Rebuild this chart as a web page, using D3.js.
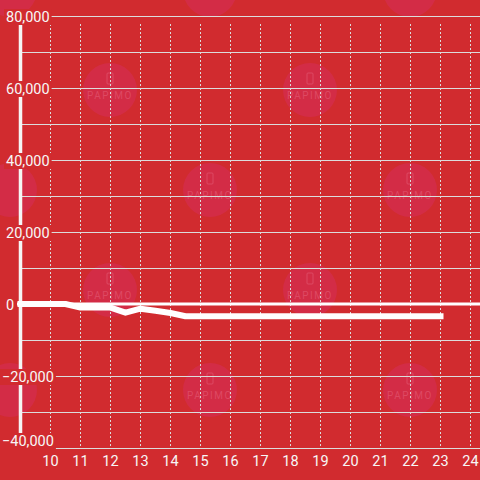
<!DOCTYPE html>
<html><head><meta charset="utf-8">
<script src="https://cdn.jsdelivr.net/npm/d3@7"></script>
<style>html,body{margin:0;padding:0;background:#d12b2f;}svg{display:block;}</style>
</head><body>
<svg id="chart" width="480" height="480"></svg>
<script>
const hours = [9, 10, 10.5, 11, 12, 12.5, 13, 13.5, 14, 14.5, 15, 16, 17, 18, 19, 20, 21, 22, 23];
const values = [0, 0, 0, -1000, -1000, -2400, -1300, -1900, -2500, -3400, -3400, -3400, -3400, -3400, -3400, -3400, -3400, -3400, -3400];
const xTicks = [10, 11, 12, 13, 14, 15, 16, 17, 18, 19, 20, 21, 22, 23, 24];
const yTicks = [-40000, -20000, 0, 20000, 40000, 60000, 80000];
const yGrid = [-40000, -30000, -20000, -10000, 0, 10000, 20000, 30000, 40000, 50000, 60000, 70000, 80000];
const xGrid = [10, 11, 12, 13, 14, 15, 16, 17, 18, 19, 20, 21, 22, 23, 24, 25];
const marks = [[110,90],[310,90],[210,190],[10,190],[410,190],[110,290],[310,290],[210,390],[410,390],[10,390],[10,-10],[210,-10],[410,-10]];

const svg = d3.select("#chart");
const bg = "#d12b2f";
svg.append("rect").attr("width",480).attr("height",480).attr("fill",bg);

const x = d3.scaleLinear().domain([9, 24]).range([20.5, 470.5]);
const y = d3.scaleLinear().domain([-40000, 80000]).range([448, 16]);

// watermarks
const wm = svg.append("g");
marks.forEach(([cx, cy]) => {
  wm.append("circle").attr("cx",cx).attr("cy",cy).attr("r",27).attr("fill","#d8306a").attr("opacity",0.4);
  if (cx > 40 && cy > 40) {
    wm.append("text").attr("x",cx).attr("y",cy+9).attr("text-anchor","middle")
      .attr("font-family","Roboto, sans-serif").attr("font-size",10).attr("letter-spacing",1.5)
      .attr("fill","#e0506a").attr("opacity",0.8).text("PAPIMO");
    wm.append("rect").attr("x",cx-3).attr("y",cy-17).attr("width",6).attr("height",11).attr("rx",1)
      .attr("fill","none").attr("stroke","#e0506a").attr("stroke-width",1).attr("opacity",0.8);
  }
});

// horizontal grid
svg.append("g").selectAll("line").data(yGrid).join("line")
  .attr("x1", x(9)).attr("x2", 480)
  .attr("y1", d => Math.round(y(d)) + 0.5).attr("y2", d => Math.round(y(d)) + 0.5)
  .attr("stroke", "#dcdcdc").attr("stroke-width", 1);

// vertical dotted grid
svg.append("g").selectAll("line").data(xGrid).join("line")
  .attr("x1", d => x(d)).attr("x2", d => x(d))
  .attr("y1", 24).attr("y2", 448)
  .attr("stroke", "#dcdcdc").attr("stroke-width", 1).attr("stroke-dasharray", "2,2");

// y axis bar
svg.append("line").attr("x1", x(9)).attr("x2", x(9)).attr("y1", 16).attr("y2", 448)
  .attr("stroke", "#f5f5f5").attr("stroke-width", 3.5);

// zero line
svg.append("line").attr("x1", x(9) - 3.5).attr("x2", 480).attr("y1", y(0)).attr("y2", y(0))
  .attr("stroke", "#ffffff").attr("stroke-width", 3);

// y labels with background
const fmt = d3.format(",");
const yl = svg.append("g");
yTicks.forEach(t => {
  const g = yl.append("g");
  const ty = t === -40000 ? y(t) - 7 : y(t) + 1;
  const txt = g.append("text").attr("x", t < 0 ? 2 : 6).attr("y", ty).attr("dy", "0.35em")
    .attr("text-anchor", "start").attr("font-family", "Roboto, sans-serif").attr("font-size", 14.5)
    .attr("fill", "#f7f7f7").text(fmt(t));
  const bb = txt.node().getBBox();
  g.insert("rect", "text").attr("x", bb.x - 2).attr("y", ty - 8).attr("width", bb.width + 4).attr("height", 16).attr("fill", bg);
});

// x labels
svg.append("g").selectAll("text").data(xTicks).join("text")
  .attr("x", d => x(d)).attr("y", 466).attr("text-anchor", "middle")
  .attr("font-family", "Roboto, sans-serif").attr("font-size", 14.5).attr("fill", "#f7f7f7")
  .text(d => d);

// data line
const line = d3.line().x((d, i) => x(hours[i])).y(d => y(d));
svg.append("path").datum(values).attr("d", line).attr("fill", "none")
  .attr("stroke", "#ffffff").attr("stroke-width", 6).attr("stroke-linecap", "square").attr("stroke-linejoin", "round");
</script>
</body></html>
